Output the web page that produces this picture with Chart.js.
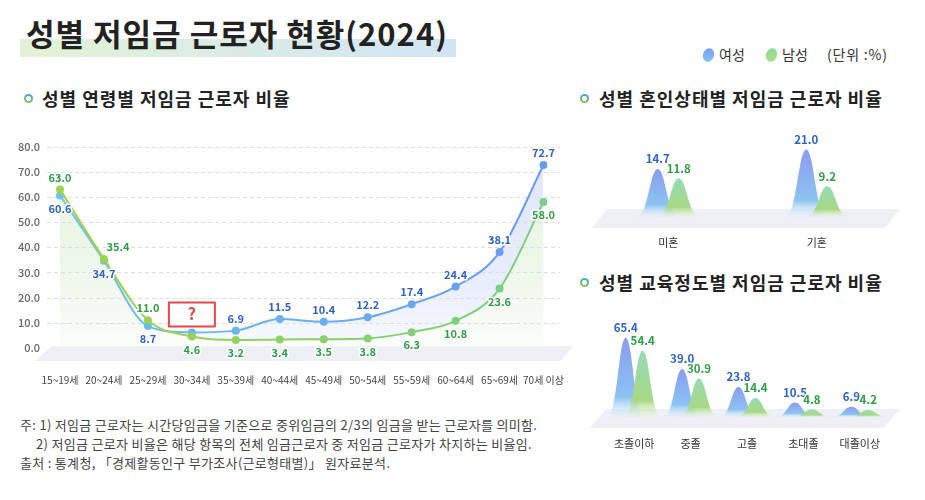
<!DOCTYPE html>
<html>
<head>
<meta charset="utf-8">
<script src="https://cdn.jsdelivr.net/npm/chart.js@4"></script>
<style>
  body { margin: 0; background: #fff; }
  #wrap { position: relative; width: 925px; height: 500px; background: #fff; font-family: 'Noto Sans CJK KR', 'Noto Sans', sans-serif; color: #222; overflow: hidden; }
  .abs { position: absolute; white-space: nowrap; }
  .sec { font-size: 18px; font-weight: 700; color: #222; line-height: 1; letter-spacing: 1px; }
  .dot { position: absolute; width: 9px; height: 9px; border-radius: 50%;
         background: radial-gradient(circle, #fff 2.2px, transparent 2.8px), linear-gradient(200deg, #3a9ee6, #9ccc3c); }
  .note { font-size: 13px; color: #444; line-height: 1; letter-spacing: 0.3px; }
  .leg { font-size: 14px; line-height: 1; color: #333; }
  canvas { position: absolute; }
</style>
</head>
<body>
<div id="wrap">
  <div class="abs" style="left:20px;top:39px;width:436px;height:18px;background:linear-gradient(90deg,#e3f2d6,#d2e5f5);"></div>
  <div class="abs" style="left:26px;top:17px;font-size:31px;font-weight:700;line-height:1;color:#222;letter-spacing:1px;">성별 저임금 근로자 현황(2024)</div>

  <div class="abs" style="left:703px;top:48px;width:11px;height:14px;border-radius:50%;transform:rotate(20deg);background:linear-gradient(160deg,#7f95f0,#7fcbf2);"></div>
  <div class="abs leg" style="left:719px;top:47px;">여성</div>
  <div class="abs" style="left:766px;top:48px;width:11px;height:14px;border-radius:50%;transform:rotate(20deg);background:linear-gradient(160deg,#86d79a,#b3e08a);"></div>
  <div class="abs leg" style="left:782px;top:47px;">남성</div>
  <div class="abs leg" style="left:827px;top:47px;letter-spacing:0.8px;">(단위 :%)</div>

  <div class="dot" style="left:24px;top:94px;"></div>
  <div class="abs sec" style="left:42px;top:89px;">성별 연령별 저임금 근로자 비율</div>
  <div class="dot" style="left:580px;top:94px;"></div>
  <div class="abs sec" style="left:599px;top:89px;">성별 혼인상태별 저임금 근로자 비율</div>
  <div class="dot" style="left:580px;top:278px;"></div>
  <div class="abs sec" style="left:599px;top:273px;">성별 교육정도별 저임금 근로자 비율</div>

  <canvas id="ageChart" width="590" height="280" style="left:0;top:120px;"></canvas>
  <canvas id="marriageChart" width="320" height="125" style="left:585px;top:130px;"></canvas>
  <canvas id="eduChart" width="320" height="140" style="left:585px;top:320px;"></canvas>

  <div class="abs note" style="left:20px;top:418px;">주: 1) 저임금 근로자는 시간당임금을 기준으로 중위임금의 2/3의 임금을 받는 근로자를 의미함.</div>
  <div class="abs note" style="left:36px;top:437px;">2) 저임금 근로자 비율은 해당 항목의 전체 임금근로자 중 저임금 근로자가 차지하는 비율임.</div>
  <div class="abs note" style="left:20px;top:456px;">출처 : 통계청, 「경제활동인구 부가조사(근로형태별)」 원자료분석.</div>
</div>

<script>
// 연령별
const ageLabels = ['15~19세', '20~24세', '25~29세', '30~34세', '35~39세', '40~44세',
                   '45~49세', '50~54세', '55~59세', '60~64세', '65~69세', '70세 이상'];
const womenAge = [60.6, 34.7, 8.7, 6.2, 6.9, 11.5, 10.4, 12.2, 17.4, 24.4, 38.1, 72.7];
const menAge   = [63.0, 35.4, 11.0, 4.6, 3.2, 3.4, 3.5, 3.8, 6.3, 10.8, 23.6, 58.0];
const unknownWomenAge = ['30~34세'];   // 원본에서 값 대신 '?'로 표시된 항목
const ageTicks = [0, 10, 20, 30, 40, 50, 60, 70, 80];

// 혼인상태별
const marriageLabels = ['미혼', '기혼'];
const womenMarriage = [14.7, 21.0];
const menMarriage   = [11.8, 9.2];

// 교육정도별
const eduLabels = ['초졸이하', '중졸', '고졸', '초대졸', '대졸이상'];
const womenEdu = [65.4, 39.0, 23.8, 10.5, 6.9];
const menEdu   = [54.4, 30.9, 14.4, 4.8, 4.2];

const FONT = "'Noto Sans CJK KR', 'Noto Sans', sans-serif";
Chart.defaults.font.family = FONT;

const BLUE_TXT = '#2f62c9';
const GREEN_TXT = '#2e9f45';

function hGrad(chart, c1, c2) {
  const a = chart.chartArea;
  if (!a) return c1;
  const g = chart.ctx.createLinearGradient(a.left, 0, a.right, 0);
  g.addColorStop(0, c1);
  g.addColorStop(1, c2);
  return g;
}
function vGrad(chart, stops) {
  const a = chart.chartArea;
  if (!a) return stops[0][1];
  const g = chart.ctx.createLinearGradient(0, a.top, 0, a.bottom);
  stops.forEach(s => g.addColorStop(s[0], s[1]));
  return g;
}

function floorPath(ctx, a, base, d) {
  // d = [topY, bottomY, leftTop, leftBottom, rightTop, rightBottom] offsets
  ctx.save();
  ctx.fillStyle = '#eef0f5';
  ctx.beginPath();
  ctx.moveTo(a.left + d[2], base + d[0]);
  ctx.lineTo(a.right + d[4], base + d[0]);
  ctx.lineTo(a.right + d[5], base + d[1]);
  ctx.lineTo(a.left + d[3], base + d[1]);
  ctx.closePath();
  ctx.fill();
  ctx.restore();
}

function haloText(ctx, txt, x, y, color, size) {
  ctx.font = `700 ${size}px ${FONT}`;
  ctx.textAlign = 'center';
  ctx.textBaseline = 'middle';
  ctx.lineJoin = 'round';
  ctx.strokeStyle = '#fff';
  ctx.lineWidth = 3;
  ctx.strokeText(txt, x, y);
  ctx.fillStyle = color;
  ctx.fillText(txt, x, y);
}

const agePlugin = {
  id: 'agePlugin',
  beforeDatasetsDraw(chart) {
    const {ctx, chartArea: a, scales: {y}} = chart;
    ctx.save();
    ctx.strokeStyle = '#dedede';
    ctx.lineWidth = 1;
    ctx.setLineDash([4, 3]);
    ageTicks.forEach(v => {
      if (v === 0) return;
      const py = Math.round(y.getPixelForValue(v)) + 0.5;
      ctx.beginPath();
      ctx.moveTo(a.left - 13, py);
      ctx.lineTo(a.right + 17, py);
      ctx.stroke();
    });
    ctx.restore();
    floorPath(ctx, a, a.bottom, [-2, 13, -8, -25, 30, 17]);
  },
  afterDatasetsDraw(chart) {
    const {ctx} = chart;
    const wm = chart.getDatasetMeta(0).data;
    const mm = chart.getDatasetMeta(1).data;
    ctx.save();
    ageLabels.forEach((lab, i) => {
      const w = womenAge[i], m = menAge[i];
      const wUp = w >= m;
      const close = Math.abs(w - m) < 1;
      const wp = wm[i], mp = mm[i];
      if (unknownWomenAge.includes(lab)) {
        const bx = wp.x, by = wp.y - 18;
        ctx.save();
        ctx.fillStyle = '#fff';
        ctx.fillRect(bx - 23, by - 12, 46, 24);
        ctx.strokeStyle = '#e8474a';
        ctx.lineWidth = 2;
        ctx.strokeRect(bx - 23, by - 12, 46, 24);
        ctx.restore();
        haloText(ctx, '?', bx, by, '#e8474a', 16);
      } else {
        haloText(ctx, w.toFixed(1), wp.x + (wUp && close ? 14 : 0), wp.y + (wUp ? -12 : 13), BLUE_TXT, 11);
      }
      haloText(ctx, m.toFixed(1), mp.x + (!wUp && close ? 14 : 0), mp.y + (wUp ? 13 : -12), GREEN_TXT, 11);
    });
    ctx.restore();
  }
};

new Chart(document.getElementById('ageChart'), {
  type: 'line',
  data: {
    labels: ageLabels,
    datasets: [
      {
        label: '여성',
        data: womenAge,
        order: 2,
        borderWidth: 2,
        borderColor: c => hGrad(c.chart, '#6cc4ea', '#6a9af0'),
        pointBackgroundColor: c => hGrad(c.chart, '#6cc4ea', '#6a9af0'),
        pointBorderWidth: 0,
        pointRadius: 4,
        fill: 'origin',
        backgroundColor: c => vGrad(c.chart, [[0, '#e0e5fa'], [0.7, '#e9eefb'], [1, '#f8fbff']]),
        cubicInterpolationMode: 'monotone'
      },
      {
        label: '남성',
        data: menAge,
        order: 1,
        borderWidth: 2,
        borderColor: c => hGrad(c.chart, '#a4d14a', '#78cf88'),
        pointBackgroundColor: c => hGrad(c.chart, '#a4d14a', '#78cf88'),
        pointBorderWidth: 0,
        pointRadius: 4,
        fill: 'origin',
        backgroundColor: c => vGrad(c.chart, [[0, '#eaf4de'], [0.6, '#edf7ea'], [1, '#fbfdf9']]),
        cubicInterpolationMode: 'monotone'
      }
    ]
  },
  options: {
    responsive: false,
    animation: false,
    layout: { padding: { top: 17, right: 42, left: 0, bottom: 0 } },
    plugins: {
      legend: { display: false },
      tooltip: { enabled: false },
      filler: { drawTime: 'beforeDatasetsDraw' }
    },
    scales: {
      x: {
        grid: { display: false, drawTicks: false },
        border: { display: false },
        ticks: { padding: 26, color: '#444', font: { size: 10 }, maxRotation: 0, autoSkip: false },
        afterFit: s => { s.height = 52; }
      },
      y: {
        min: 0, max: 80,
        grid: { display: false, drawTicks: false },
        border: { display: false },
        ticks: { stepSize: 10, padding: 20, color: '#666', font: { size: 11, weight: '500' }, callback: v => v.toFixed(1) },
        afterFit: s => { s.width = 60; }
      }
    }
  },
  plugins: [agePlugin]
});

function bellPlugin(floorD, spread) {
  return {
    id: 'bells',
    beforeDatasetsDraw(chart) {
      floorPath(chart.ctx, chart.chartArea, chart.chartArea.bottom, floorD);
    },
    afterDatasetsDraw(chart) {
      const {ctx} = chart;
      const cols = [
        ['#8a9cf0', '#8cc3f2', 'rgba(215,235,252,0.2)'],
        ['#96dcb6', '#a8d884', 'rgba(225,242,210,0.2)']
      ];
      [0, 1].forEach(di => {
        chart.getDatasetMeta(di).data.forEach(el => {
          const x = el.x, top = el.y, base = el.base + 2;
          const hw = el.width * spread;
          const g = ctx.createLinearGradient(0, top, 0, base);
          g.addColorStop(0, cols[di][0]);
          g.addColorStop(0.75, cols[di][1]);
          g.addColorStop(1, cols[di][2]);
          ctx.save();
          ctx.fillStyle = g;
          ctx.beginPath();
          ctx.moveTo(x - hw, base);
          ctx.bezierCurveTo(x - hw * 0.45, base, x - hw * 0.38, top, x, top);
          ctx.bezierCurveTo(x + hw * 0.38, top, x + hw * 0.45, base, x + hw, base);
          ctx.closePath();
          ctx.fill();
          ctx.restore();
        });
      });
      ctx.save();
      [0, 1].forEach(di => {
        const vals = chart.data.datasets[di].data;
        chart.getDatasetMeta(di).data.forEach((el, i) => {
          haloText(ctx, vals[i].toFixed(1), el.x, el.y - 10, di === 0 ? BLUE_TXT : GREEN_TXT, 11.5);
        });
      });
      ctx.restore();
    }
  };
}

function bellChart(id, labels, women, men, yMax, pad, catPct, floorD, spread, tickPad, axisH) {
  return new Chart(document.getElementById(id), {
    type: 'bar',
    data: {
      labels: labels,
      datasets: [
        { label: '여성', data: women, backgroundColor: 'rgba(0,0,0,0)', borderWidth: 0 },
        { label: '남성', data: men, backgroundColor: 'rgba(0,0,0,0)', borderWidth: 0 }
      ]
    },
    options: {
      responsive: false,
      animation: false,
      layout: { padding: pad },
      datasets: { bar: { categoryPercentage: catPct, barPercentage: 1 } },
      plugins: { legend: { display: false }, tooltip: { enabled: false } },
      scales: {
        x: {
          grid: { display: false, drawTicks: false },
          border: { display: false },
          ticks: { padding: tickPad, color: '#333', font: { size: 11 }, maxRotation: 0 },
          afterFit: s => { s.height = axisH; }
        },
        y: { display: false, min: 0, max: yMax }
      }
    },
    plugins: [bellPlugin(floorD, spread)]
  });
}

bellChart('marriageChart', marriageLabels, womenMarriage, menMarriage, 24,
  { top: 10, left: 9, right: 14, bottom: 0 }, 0.283, [-6, 13, 13, -2, 9, -6], 1.0, 21, 40);
bellChart('eduChart', eduLabels, womenEdu, menEdu, 72,
  { top: 10, left: 21, right: 17, bottom: 0 }, 0.6, [-6, 13, 0, -16, 12, -5], 1.1, 22, 45);
</script>
</body>
</html>
